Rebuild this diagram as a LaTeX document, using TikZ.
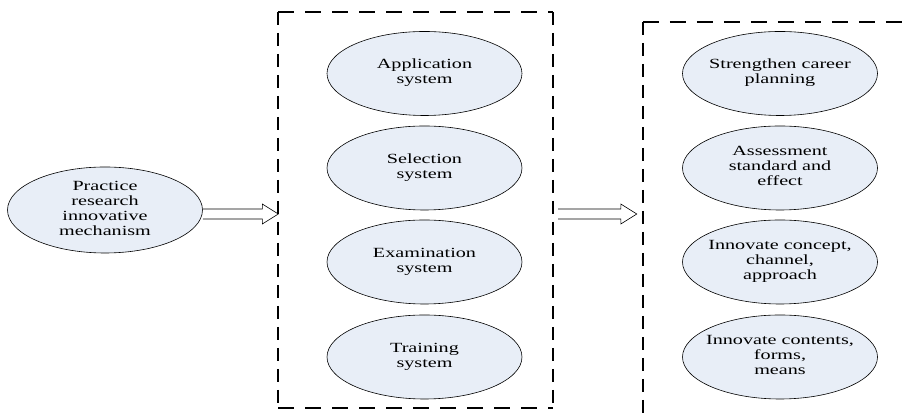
\documentclass[tikz,border=0pt]{standalone}
\usepackage{fontspec}
\setmainfont{Liberation Serif}
\usepackage{graphicx}
\usepackage{xcolor}
\usepackage{tikz}
\usetikzlibrary{shapes}
\usetikzlibrary{calc}
\usetikzlibrary{positioning}

\definecolor{ovalfill}{RGB}{232,238,247}

\newcommand{\ovaltext}[1]{\makebox[0pt]{\scalebox{1.44}[1]{%
  \begin{tabular}{@{}c@{}}#1\end{tabular}}}}
\newcommand{\hollowarrow}[2]{%
  \draw [arrowline] ($(#1)+(0,5)$) -- ($(#2)+(-16,5)$) -- ($(#2)+(-16,10)$)
    -- (#2) -- ($(#2)+(-16,-10)$) -- ($(#2)+(-16,-5)$) -- ($(#1)+(0,-5)$);}
\newcommand{\dashedframe}[1]{%
  \draw [hdash] (#1.north west) -- (#1.north east);
  \draw [hdash] (#1.south west) -- (#1.south east);
  \draw [vdash] (#1.north west) -- (#1.south west);
  \draw [vdash] (#1.north east) -- (#1.south east);}

\begin{document}
\begin{tikzpicture}
    [x=1pt, y=1pt,
     every node part/.style={align=center},
     oval/.style={draw, ellipse, fill=ovalfill, line width=0.6pt, inner sep=0pt,
       minimum width=195, minimum height=84, font=\fontsize{14}{15}\selectfont},
     framebox/.style={rectangle, inner sep=0pt},
     hdash/.style={line width=1.8pt, dash pattern=on 16pt off 11pt},
     vdash/.style={line width=1.8pt, dash pattern=on 13pt off 8pt},
     arrowline/.style={line width=0.6pt}]
    \useasboundingbox (0, 0) rectangle (911, 417);

    \node (midbox) [framebox, minimum width=274.5, minimum height=396] at (415.75, 207) {};
    \node (resbox) [framebox, minimum width=340, minimum height=440] at (813, 175) {};
    \dashedframe{midbox}
    \dashedframe{resbox}

    \node (prac) [oval, minimum height=86] at (105, 207) {
      \ovaltext{Practice \\ research \\ innovative \\ mechanism}
    };

    \node (app) [oval] at (424.5, 343.5) {\ovaltext{Application \\ system}};
    \node (sel) [oval] at (424.5, 249) {\ovaltext{Selection \\ system}};
    \node (exam) [oval] at (424.5, 155) {\ovaltext{Examination \\ system}};
    \node (train) [oval] at (424.5, 60) {\ovaltext{Training \\ system}};

    \node (career) [oval] at (780, 343.5) {\ovaltext{Strengthen career \\ planning}};
    \node (assess) [oval] at (780, 249) {\ovaltext{Assessment \\ standard and \\ effect}};
    \node (concept) [oval] at (780, 155) {\ovaltext{Innovate concept, \\ channel, \\ approach}};
    \node (content) [oval] at (780, 60) {\ovaltext{Innovate contents, \\ forms, \\ means}};

    \coordinate (a1s) at ($(prac.east)+(0,-4)$);
    \coordinate (a1e) at ($(midbox.west)+(0,-4)$);
    \coordinate (a2s) at ($(midbox.east)+(5,-4)$);
    \coordinate (a2e) at ($(resbox.west |- midbox.east)+(-6,-4)$);
    \hollowarrow{a1s}{a1e}
    \hollowarrow{a2s}{a2e}
  \end{tikzpicture}
\end{document}
